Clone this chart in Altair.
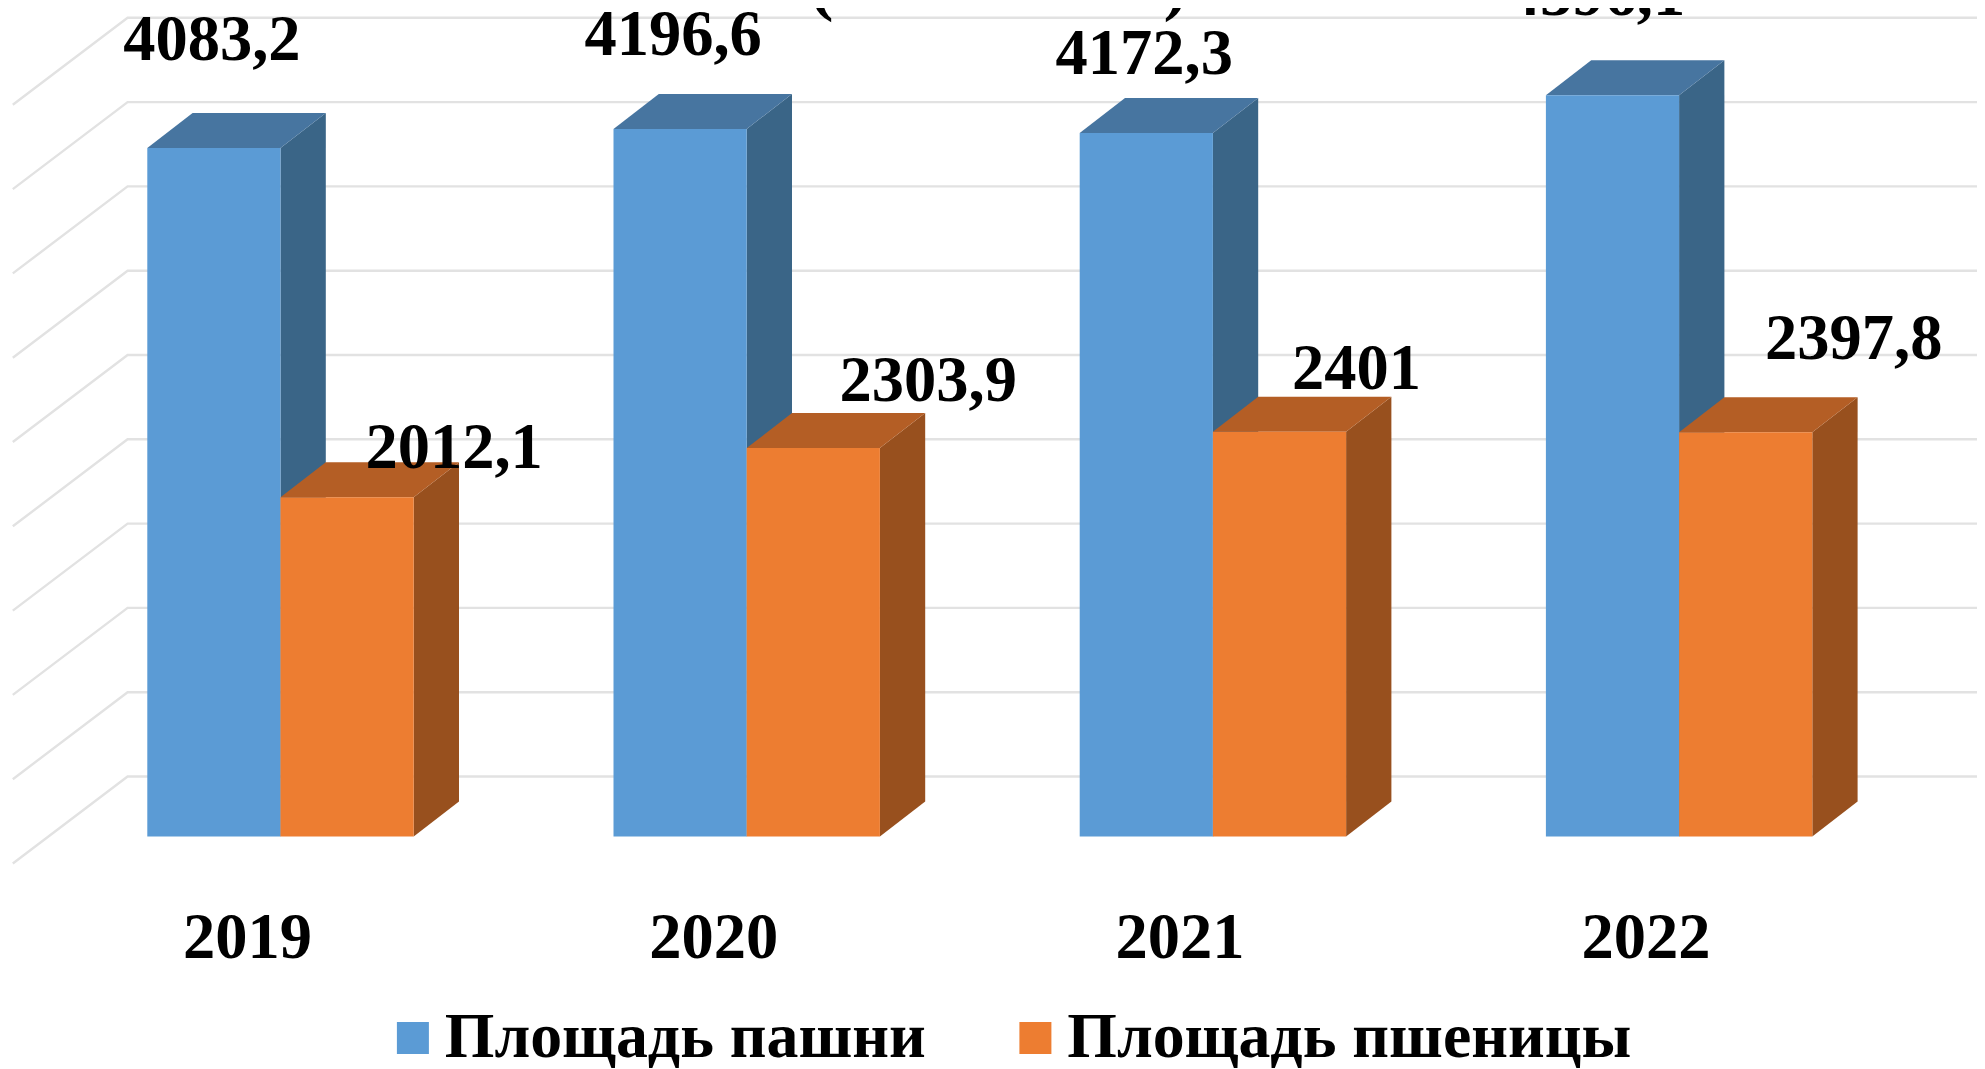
import altair as alt
import pandas as pd

# ---- chart values ----
years = [2019, 2020, 2021, 2022]
arable = [4083.2, 4196.6, 4172.3, 4396.1]
wheat = [2012.1, 2303.9, 2401, 2397.8]
series_names = ["Площадь пашни", "Площадь пшеницы"]
title_text = "(2019- 2022)"
grid_values = [0, 500, 1000, 1500, 2000, 2500, 3000, 3500, 4000, 4500]

# ---- layout and style (page pixels turned into scale units) ----
W, H = 1969, 1061
PX_PER_YEAR = 466.2
PX_PER_UNIT = 0.1686
ORIGIN_X = 280.5 - 8   # plot pixel of the 2019 group's middle
ORIGIN_Y = 836.5 - 8   # plot pixel of value 0 on the bars' front face
X_DOMAIN = [2019 - ORIGIN_X / PX_PER_YEAR, 2019 + (W - ORIGIN_X) / PX_PER_YEAR]
Y_DOMAIN = [(ORIGIN_Y - H) / PX_PER_UNIT, ORIGIN_Y / PX_PER_UNIT]

BAR_W = 133.2 / PX_PER_YEAR
DEPTH_X = 45.3 / PX_PER_YEAR
DEPTH_Y = 35 / PX_PER_UNIT
WALL_X0 = X_DOMAIN[0] + 4.8 / PX_PER_YEAR
WALL_X1 = X_DOMAIN[0] + 119.6 / PX_PER_YEAR
WALL_BACK = 60 / PX_PER_UNIT
WALL_FRONT = -27 / PX_PER_UNIT

FONT = "Liberation Serif"
FS = 64.5
COLORS = {"a": ("#5B9BD5", "#4775A0", "#3A6587"), "w": ("#ED7D31", "#B45E25", "#98501E")}

# label shift from the bar's front-top-middle, in pixels (hand placed in the original)
LABEL_SHIFT_A = [(-2, 88), (-7, 74), (-2, 59), (-16, 80)]
LABEL_SHIFT_W = [(107, 29), (115, 47), (77, 43), (108, 73)]

x_scale = alt.Scale(domain=X_DOMAIN, nice=False, zero=False)
y_scale = alt.Scale(domain=Y_DOMAIN, nice=False, zero=False)
X_AXIS = alt.Axis(values=years, format="d", title=None, domain=False, ticks=False, grid=False,
                  labelFont=FONT, labelFontSize=FS, labelFontWeight="bold", labelColor="#000000",
                  labelBaseline="alphabetic", labelOffset=-33.5, labelPadding=0, offset=-112,
                  labelOverlap=False, labelFlush=False)
xq = alt.X("x:Q", scale=x_scale, axis=X_AXIS)
yq = alt.Y("y:Q", scale=y_scale, axis=None)
y2q = alt.Y2("y2:Q")

# gridlines on the back wall and left wall
grid_rows = []
for g in grid_values:
    grid_rows += [
        dict(g=g, o=0, x=WALL_X0, y=g + WALL_FRONT),
        dict(g=g, o=1, x=WALL_X1, y=g + WALL_BACK),
        dict(g=g, o=2, x=X_DOMAIN[1], y=g + WALL_BACK),
    ]
grid = alt.Chart(pd.DataFrame(grid_rows)).mark_line(color="#E2E2E2", strokeWidth=2.4, clip=True).encode(
    x=xq, y=yq, detail="g:N", order="o:Q")

def faces(values, start_shift, name, cols):
    front, top, side = [], [], []
    for yr, v in zip(years, values):
        x0 = yr + start_shift
        x1 = x0 + BAR_W
        front.append(dict(x=x0, x2=x1, y=v, y2=0, s=name))
        top += [
            dict(k=yr, x=x0, y=v, y2=v),
            dict(k=yr, x=x0 + DEPTH_X, y=v + DEPTH_Y, y2=v),
            dict(k=yr, x=x1, y=v + DEPTH_Y, y2=v),
            dict(k=yr, x=x1 + DEPTH_X, y=v + DEPTH_Y, y2=v + DEPTH_Y),
        ]
        side += [
            dict(k=yr, x=x1, y=v, y2=0),
            dict(k=yr, x=x1 + DEPTH_X, y=v + DEPTH_Y, y2=DEPTH_Y),
        ]
    side_l = alt.Chart(pd.DataFrame(side)).mark_area(color=cols[2]).encode(
        x=xq, y=yq, y2=y2q, detail="k:N")
    top_l = alt.Chart(pd.DataFrame(top)).mark_area(color=cols[1]).encode(
        x=xq, y=yq, y2=y2q, detail="k:N")
    front_l = alt.Chart(pd.DataFrame(front)).mark_rect().encode(
        x=xq, x2="x2:Q", y=yq, y2=y2q,
        color=alt.Color("s:N", scale=alt.Scale(domain=series_names, range=[COLORS["a"][0], COLORS["w"][0]]),
                        legend=alt.Legend(title=None, orient="none", legendX=373, legendY=998,
                                          direction="horizontal", columns=2, symbolType="square",
                                          symbolSize=1024, symbolStrokeWidth=0, symbolOpacity=1,
                                          labelFont=FONT, labelFontSize=63.8, labelFontWeight="bold",
                                          labelColor="#000000", labelOffset=0, columnPadding=77.5,
                                          labelLimit=900, padding=0)))
    return [side_l, top_l, front_l]

def labels(values, start_shift, shifts):
    rows = []
    for yr, v, (dx, dy) in zip(years, values, shifts):
        rows.append(dict(x=yr + start_shift + BAR_W / 2 + dx / PX_PER_YEAR,
                         y=v + dy / PX_PER_UNIT,
                         t=str(v).replace(".", ",")))
    return alt.Chart(pd.DataFrame(rows)).mark_text(
        font=FONT, fontSize=FS, fontWeight="bold", color="#000000", baseline="alphabetic", align="center"
    ).encode(x=xq, y=yq, text="t:N")

title_layer = alt.Chart(pd.DataFrame([dict(
    x=X_DOMAIN[0] + (998.5 - 8) / PX_PER_YEAR,
    y=(ORIGIN_Y + 1) / PX_PER_UNIT,
    t=title_text)])).mark_text(
    font=FONT, fontSize=72, fontWeight="bold", color="#000000", baseline="alphabetic", align="center"
).encode(x=xq, y=yq, text="t:N")

layers = [grid]
layers += faces(arable, -BAR_W, series_names[0], COLORS["a"])
layers += faces(wheat, 0, series_names[1], COLORS["w"])
layers += [labels(arable, -BAR_W, LABEL_SHIFT_A), labels(wheat, 0, LABEL_SHIFT_W), title_layer]

chart = alt.layer(*layers).properties(
    width=W, height=H, background="#FFFFFF",
    padding=0, autosize=alt.AutoSizeParams(type="none"),
).resolve_scale(color="shared").configure_view(stroke=None)

chart.save("out.html", embed_options={"renderer": "svg", "actions": False})
